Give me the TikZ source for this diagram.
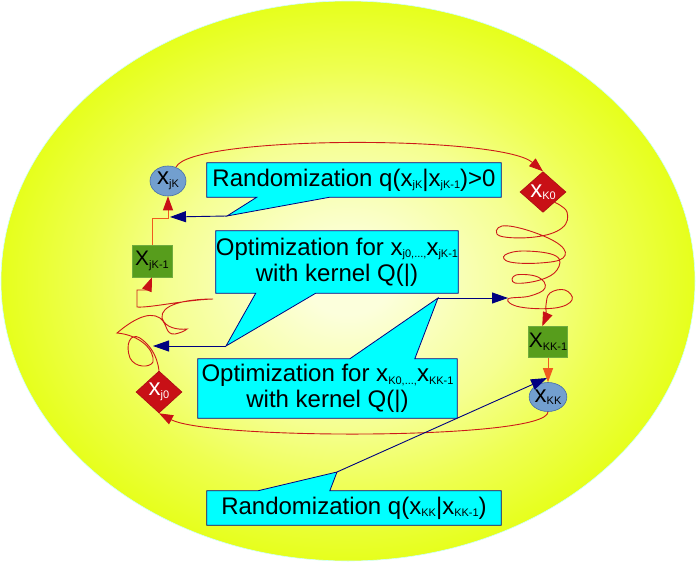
\documentclass[tikz,border=0pt]{standalone}
\usepackage{fontspec}
\setmainfont{Liberation Sans}
\usetikzlibrary{arrows.meta,shapes.geometric,calc}
\pgfdeclarelayer{bgb}
\pgfdeclarelayer{bg}
\pgfsetlayers{bgb,bg,main}
\definecolor{ylw}{RGB}{230,255,28}
\definecolor{ylwb}{RGB}{238,255,80}
\definecolor{ylwa}{RGB}{245,255,145}
\definecolor{ylwc}{RGB}{252,255,220}
\definecolor{cyanbox}{RGB}{0,255,255}
\definecolor{navyc}{RGB}{0,0,128}
\definecolor{dred}{RGB}{200,16,22}
\definecolor{lred}{RGB}{205,25,25}
\definecolor{grn}{RGB}{87,157,28}
\definecolor{blu}{RGB}{114,159,207}
\definecolor{bluB}{RGB}{70,110,170}
\definecolor{orng}{RGB}{240,90,30}
\definecolor{edgec}{RGB}{205,255,255}
\pgfdeclareradialshading{ellsh}{\pgfpoint{0bp}{0bp}}{color(0bp)=(ylwc); color(3bp)=(ylwc); color(13bp)=(ylwa); color(19bp)=(ylwb); color(25bp)=(ylw); color(50bp)=(ylw)}
\newcommand\sbs[1]{\raisebox{-2.5pt}{\fontsize{11}{11}\selectfont #1}}
\begin{document}
\begin{tikzpicture}[x=1pt,y=-1pt,
  cbox/.style={rectangle, draw=none, inner sep=0pt, align=center,
    font=\fontsize{24}{26}\selectfont},
  cshape/.style={fill=cyanbox, draw=navyc, line width=0.8pt, line join=miter},
  gbox/.style={rectangle, fill=grn, draw=grn!85!white, line width=0.6pt, inner sep=0pt,
    font=\fontsize{21}{21}\selectfont},
  ebox/.style={ellipse, fill=blu, draw=bluB, line width=0.6pt, inner sep=0pt,
    font=\fontsize{24}{24}\selectfont},
  dbox/.style={diamond, fill=dred, draw=dred!85!black, line width=0.6pt, inner sep=0pt,
    text=white, font=\fontsize{24}{24}\selectfont},
  rline/.style={draw=lred, line width=0.9pt, -{Triangle[length=14pt,width=10pt,color=dred]}},
  oline/.style={draw=orng, line width=0.9pt},
  bline/.style={draw=navyc, line width=0.9pt, -{Triangle[length=16pt,width=11pt]}}]
\useasboundingbox (0,0) rectangle (697,562);
\begin{pgfonlayer}{bgb}
\shade[shading=ellsh, draw=edgec, line width=0.6pt] (348,281) ellipse [x radius=347, y radius=280];
\end{pgfonlayer}

% callout texts
\node[cbox, minimum width=294pt, minimum height=34pt] (c1) at (354,180)
  {Randomization q(x\sbs{jK}|x\sbs{jK-1})>0};
\node[cbox, minimum width=240pt, minimum height=62pt] (c2) at (337,262)
  {Optimization for x\sbs{j0,...,}x\sbs{jK-1}\\with kernel Q(|)};
\node[cbox, minimum width=259pt, minimum height=59pt] (c3) at (327.5,388.5)
  {Optimization for x\sbs{K0,...,}x\sbs{KK-1}\\with kernel Q(|)};
\node[cbox, minimum width=294pt, minimum height=34pt] (c4) at (354,508)
  {Randomization q(x\sbs{KK}|x\sbs{KK-1})};

\coordinate (t1) at (227,216);
\coordinate (t2) at (226,346);
\coordinate (t3) at (438,298);
\coordinate (t4) at (337,472);
\coordinate (a1) at (170,217);
\coordinate (a2) at (153,346);
\coordinate (a3) at (508,298);
\coordinate (a4) at (547,378);

\begin{pgfonlayer}{bg}
\filldraw[cshape] (c1.north west) -- (c1.north east) -- (c1.south east)
  -- ($(c1.south west)+(123,0)$) -- (t1) -- ($(c1.south west)+(50,0)$) -- (c1.south west) -- cycle;
\filldraw[cshape] (c2.north west) -- (c2.north east) -- (c2.south east)
  -- ($(c2.south west)+(100,0)$) -- (t2) -- ($(c2.south west)+(40,0)$) -- (c2.south west) -- cycle;
\filldraw[cshape] (c3.north west) -- ($(c3.north west)+(152,0)$) -- (t3)
  -- ($(c3.north west)+(217,0)$) -- (c3.north east) -- (c3.south east) -- (c3.south west) -- cycle;
\filldraw[cshape] (c4.north west) -- ($(c4.north west)+(51,0)$) -- (t4)
  -- ($(c4.north west)+(123,0)$) -- (c4.north east) -- (c4.south east) -- (c4.south west) -- cycle;
\end{pgfonlayer}

% nodes
\node[ebox, minimum width=36pt, minimum height=30pt] (xjK) at (168,181) {x\sbs{jK}};
\node[gbox, minimum width=40pt, minimum height=32pt] (XjK1) at (152,261) {X\sbs{jK-1}};
\node[dbox, minimum width=46pt, minimum height=42pt] (xj0) at (159,392) {x\sbs{j0}};
\node[dbox, minimum width=46pt, minimum height=40pt] (xK0) at (543,192) {x\sbs{K0}};
\node[gbox, minimum width=39pt, minimum height=31pt] (XKK1) at (548,342) {X\sbs{KK-1}};
\node[ebox, minimum width=35pt, minimum height=29pt] (xKK) at (548,397) {x\sbs{KK}};

% red connectors
\draw[rline] (xjK.60) .. controls (190,135) and (500,135) .. (xK0.north);
\draw[rline] plot[smooth, tension=0.7] coordinates {(xK0.south east) (567,212) (562,228)
  (535,237) (500,236) (502,226) (530,231) (560,245) (563,258) (540,263) (510,262)
  (505,255) (525,251) (556,256) (557,270) (540,280) (515,283) (516,275) (538,277)
  (545,288) (530,296) (508,299) (520,307) (555,308) (572,300) (565,290) (550,293)
  (546,305) (546,315) (XKK1.110)};
\draw[rline] (xKK.south) .. controls (548,440) and (210,440) .. (xj0.south);
\draw[rline] (xj0.north)
  .. controls (157,355) and (150,345) .. (140,338)
  .. controls (130,332) and (125,345) .. (130,358)
  .. controls (135,368) and (150,368) .. (153,362)
  .. controls (155,350) and (140,335) .. (117,333)
  .. controls (130,322) and (148,310) .. (160,318)
  .. controls (168,324) and (165,335) .. (175,334)
  .. controls (180,333) and (185,331) .. (187,329)
  .. controls (178,330) and (165,328) .. (162,318)
  .. controls (160,305) and (185,299) .. (213,299)
  .. controls (185,300) and (150,308) .. (137,307)
  -- (137,290) -- (147,290) -- (XjK1.south);
% orange connectors
\draw[oline, -{Triangle[length=14pt,width=10pt,color=dred]}] (XjK1.north) -- ++(0,-26) -| (xjK.south);
\draw[oline, -{Triangle[length=14pt,width=10pt]}] (XKK1.south) -- (xKK.north);
% blue arrows
\draw[bline] (t1) -- (a1);
\draw[bline] (t2) -- (a2);
\draw[bline] (t3) -- (a3);
\draw[bline] (t4) -- (a4);
\end{tikzpicture}
\end{document}
